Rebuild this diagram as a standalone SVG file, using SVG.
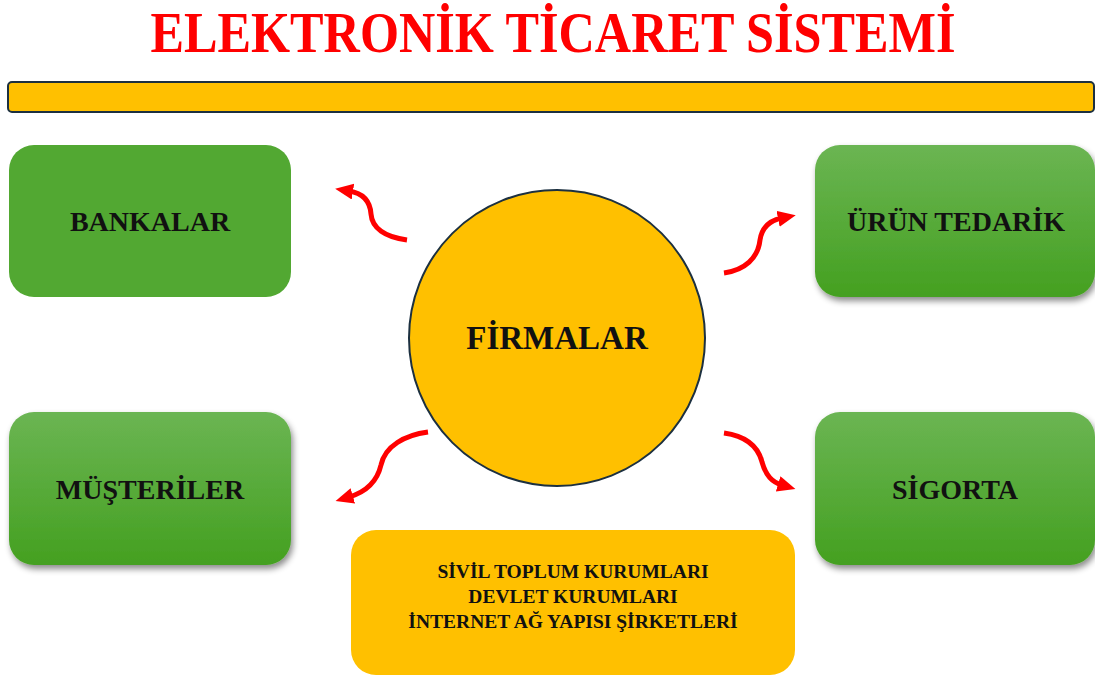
<svg xmlns="http://www.w3.org/2000/svg" width="1095" height="680" viewBox="0 0 1095 680">
<defs>
<style>
.lbl{font-family:"Liberation Serif","DejaVu Serif",serif;font-weight:bold;fill:#111;text-anchor:middle;dominant-baseline:central}
.arr{fill:none;stroke:#FF0000;stroke-width:5;stroke-linecap:butt;marker-end:url(#ah)}
.grn{fill:url(#gg);filter:url(#sh)}
.bx{font-size:28px}
.sm{font-size:19.5px}
</style>
<linearGradient id="gg" x1="0" y1="0" x2="0" y2="1">
<stop offset="0" stop-color="#6BB553"/>
<stop offset="1" stop-color="#44A020"/>
</linearGradient>
<filter id="sh" x="-10%" y="-10%" width="125%" height="130%">
<feDropShadow dx="2" dy="4" stdDeviation="3" flood-color="#000" flood-opacity="0.45"/>
</filter>
<marker id="ah" markerUnits="userSpaceOnUse" markerWidth="20" markerHeight="20" refX="4" refY="8" orient="auto">
<path d="M0,0 L18,8 L0,16 Z" fill="#FF0000"/>
</marker>
</defs>
<rect width="1095" height="680" fill="#fff"/>
<g id="title">
<text x="553" y="52" class="lbl" style="fill:#FF0000;font-size:58px;dominant-baseline:alphabetic" textLength="805" lengthAdjust="spacingAndGlyphs">ELEKTRONİK TİCARET SİSTEMİ</text>
</g>
<g id="bar">
<rect x="8" y="82" width="1086" height="30" rx="4" fill="#FFC000" stroke="#1C3040" stroke-width="2"/>
</g>
<g id="connectors">
<path class="arr" d="M407,240 C385,237 372,228 371,214 C370,200 362,193 349,191"/>
<path class="arr" d="M724,273 C745,270 758,258 760,240 C762,226 772,220 782,218"/>
<path class="arr" d="M428,432 C405,435 385,446 381,465 C377,482 366,492 349,497"/>
<path class="arr" d="M724,433 C745,436 758,446 762,462 C766,476 772,482 782,485"/>
</g>
<g id="bankalar">
<rect x="9" y="145" width="282" height="152" rx="25" fill="#52A832"/>
<text x="150" y="221" class="lbl bx">BANKALAR</text>
</g>
<g id="urun">
<rect x="815" y="145" width="280" height="152" rx="25" class="grn"/>
<text x="956" y="221" class="lbl bx">ÜRÜN TEDARİK</text>
</g>
<g id="musteriler">
<rect x="9" y="412" width="282" height="153" rx="25" class="grn"/>
<text x="150" y="489" class="lbl bx">MÜŞTERİLER</text>
</g>
<g id="sigorta">
<rect x="815" y="412" width="280" height="153" rx="25" class="grn"/>
<text x="955" y="489" class="lbl bx">SİGORTA</text>
</g>
<g id="firmalar">
<circle cx="557" cy="338" r="148" fill="#FFC000" stroke="#1C3040" stroke-width="2"/>
<text x="557" y="338" class="lbl" style="font-size:33px">FİRMALAR</text>
</g>
<g id="kurumlar">
<rect x="351" y="530" width="444" height="145" rx="25" fill="#FFC000"/>
<text x="573" y="571" class="lbl sm">SİVİL TOPLUM KURUMLARI</text>
<text x="573" y="596" class="lbl sm">DEVLET KURUMLARI</text>
<text x="573" y="621" class="lbl sm">İNTERNET AĞ YAPISI ŞİRKETLERİ</text>
</g>
</svg>
